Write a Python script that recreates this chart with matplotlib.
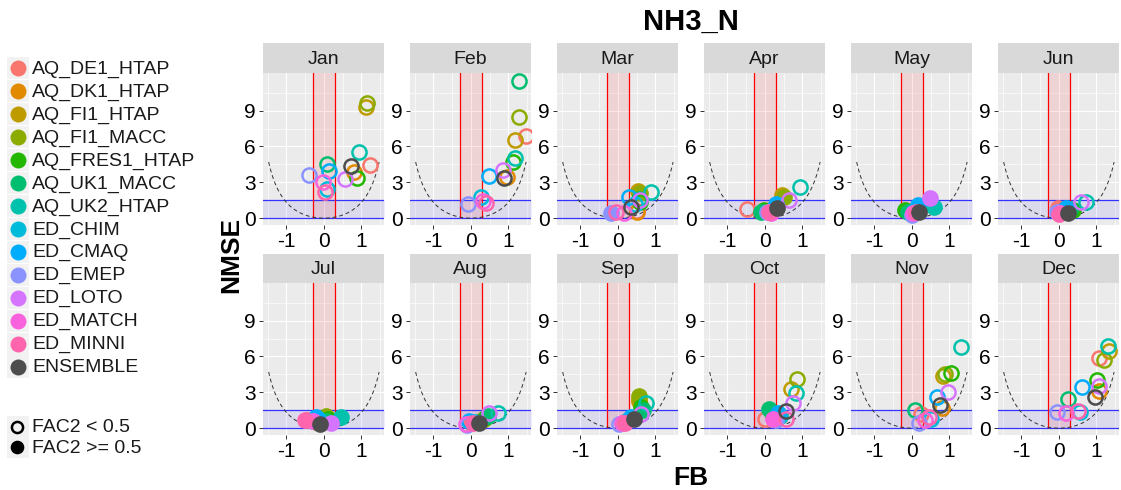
import numpy as np
import matplotlib
matplotlib.use("Agg")
import matplotlib.pyplot as plt
from matplotlib.patches import Rectangle

plt.rcParams['font.family'] = ['Liberation Sans', 'DejaVu Sans']

models = ["AQ_DE1_HTAP", "AQ_DK1_HTAP", "AQ_FI1_HTAP", "AQ_FI1_MACC", "AQ_FRES1_HTAP",
          "AQ_UK1_MACC", "AQ_UK2_HTAP", "ED_CHIM", "ED_CMAQ", "ED_EMEP", "ED_LOTO",
          "ED_MATCH", "ED_MINNI", "ENSEMBLE"]
colors = ["#F8766D", "#E18A00", "#BE9C00", "#8CAB00", "#24B700", "#00BE70", "#00C1AB",
          "#00BBDA", "#00ACFC", "#8B93FF", "#D575FE", "#F962DD", "#FF65AC", "#4D4D4D"]
months = ["Jan", "Feb", "Mar", "Apr", "May", "Jun", "Jul", "Aug", "Sep", "Oct", "Nov", "Dec"]

# FB, NMSE, FAC2>=0.5 flag (1 = filled) per month, in model order
jan_fb = [1.23, 0.81, 1.12, 1.15, 0.87, 0.08, 0.94, 0.08, 0.13, -0.40, 0.55, -0.03, 0.04, 0.71]
jan_nmse = [4.46, 3.85, 9.33, 9.6, 3.4, 4.54, 5.5, 2.45, 3.96, 3.62, 3.28, 3.0, 2.17, 4.37]
jan_fac2 = [0, 0, 0, 0, 0, 0, 0, 0, 0, 0, 0, 0, 0, 0]

feb_fb = [1.47, 0.95, 1.18, 1.29, 1.11, 1.29, 1.18, 0.27, 0.47, -0.08, 0.86, 0.33, 0.40, 0.89]
feb_nmse = [6.88, 3.48, 6.55, 8.5, 4.73, 11.48, 5.0, 1.8, 3.54, 1.2, 4.04, 1.45, 1.25, 3.34]
feb_fac2 = [0, 0, 0, 0, 0, 0, 0, 0, 0, 0, 0, 0, 0, 0]

mar_fb = [0.52, 0.51, 0.54, 0.58, 0.6, 0.55, 0.87, 0.45, 0.29, -0.19, 0.6, 0.16, -0.06, 0.36]
mar_nmse = [0.6, 0.55, 2.28, 2.1, 1.39, 1.6, 2.23, 1.2, 1.81, 0.47, 1.5, 0.42, 0.55, 0.97]
mar_fac2 = [0, 0, 1, 1, 0, 0, 0, 0, 0, 1, 0, 0, 0, 0]

apr_fb = [-0.47, 0.45, 0.46, 0.5, -0.03, -0.11, 0.94, 0.2, 0.3, 0.05, 0.64, 0.15, 0.1, 0.33]
apr_nmse = [0.75, 1.7, 1.95, 1.8, 0.7, 0.55, 2.64, 0.6, 1.2, 0.5, 1.53, 0.42, 0.5, 0.84]
apr_fac2 = [0, 1, 1, 1, 1, 1, 0, 1, 1, 1, 0, 1, 1, 1]

may_fb = [-0.06, 0.1, 0.15, 0.2, -0.19, -0.1, 0.6, 0.05, 0.15, 0.0, 0.49, 0.03, 0.1, 0.2]
may_nmse = [0.6, 0.8, 0.9, 1.0, 0.69, 0.55, 0.97, 0.6, 1.1, 0.3, 1.67, 0.42, 0.5, 0.55]
may_fac2 = [1, 1, 1, 1, 1, 1, 1, 1, 1, 1, 1, 1, 1, 1]

jun_fb = [-0.02, 0.1, 0.15, 0.2, 0.37, 0.3, 0.72, 0.15, 0.2, -0.05, 0.59, 0.02, 0.0, 0.24]
jun_nmse = [0.84, 0.5, 0.6, 0.65, 0.7, 0.8, 1.34, 0.7, 0.84, 0.5, 1.34, 0.42, 0.35, 0.42]
jun_fac2 = [1, 1, 1, 1, 1, 1, 0, 1, 1, 1, 0, 1, 1, 1]

jul_fb = [-0.45, -0.2, 0.0, 0.06, 0.1, 0.05, 0.46, -0.15, -0.2, -0.3, 0.2, -0.3, -0.51, -0.11]
jul_nmse = [0.69, 0.5, 0.7, 1.02, 0.8, 0.6, 0.97, 0.8, 0.9, 0.6, 0.47, 0.6, 0.69, 0.33]
jul_fac2 = [1, 1, 1, 1, 1, 1, 1, 1, 1, 1, 1, 1, 1, 1]

aug_fb = [0.0, 0.2, 0.3, 0.35, 0.4, 0.45, 0.71, 0.1, -0.05, -0.1, 0.49, -0.12, 0.05, 0.21]
aug_nmse = [0.4, 0.5, 0.7, 0.8, 0.9, 1.0, 1.3, 0.5, 0.6, 0.3, 1.3, 0.33, 0.45, 0.47]
aug_fac2 = [1, 1, 1, 1, 1, 1, 0, 1, 0, 0, 0, 0, 1, 1]

sep_fb = [0.15, 0.55, 0.55, 0.57, 0.62, 0.68, 0.75, 0.3, 0.35, 0.04, 0.62, 0.12, 0.2, 0.44]
sep_nmse = [0.5, 2.3, 2.4, 2.69, 1.8, 1.5, 2.13, 0.8, 0.9, 0.33, 1.16, 0.4, 0.45, 0.8]
sep_fac2 = [1, 1, 1, 1, 1, 1, 0, 1, 1, 0, 0, 0, 1, 1]

oct_fb = [-0.01, 0.4, 0.7, 0.86, 0.2, 0.11, 0.83, 0.4, 0.34, 0.3, 0.76, 0.21, 0.57, 0.57]
oct_nmse = [0.75, 1.0, 3.3, 4.13, 1.3, 1.58, 2.91, 1.0, 1.3, 0.7, 2.08, 0.75, 0.8, 1.44]
oct_fac2 = [0, 1, 0, 0, 1, 1, 0, 1, 1, 1, 0, 1, 0, 0]

nov_fb = [0.25, 0.8, 0.83, 0.87, 1.04, 0.07, 1.31, 0.51, 0.66, 0.19, 0.95, 0.34, 0.45, 0.75]
nov_nmse = [1.2, 1.7, 4.4, 4.56, 4.62, 1.52, 6.76, 0.75, 2.6, 0.47, 3.03, 0.69, 0.9, 1.91]
nov_fac2 = [0, 0, 0, 0, 0, 0, 0, 0, 0, 0, 0, 0, 0, 0]

dec_fb = [1.08, 1.07, 1.34, 1.21, 1.01, 0.24, 1.3, 0.55, 0.62, -0.05, 1.06, 0.2, 0.5, 0.97]
dec_nmse = [5.88, 3.1, 6.43, 5.74, 4.01, 2.41, 6.84, 1.36, 3.46, 1.38, 3.52, 1.3, 1.45, 2.6]
dec_fac2 = [0, 0, 0, 0, 0, 0, 0, 0, 0, 0, 0, 0, 0, 0]

fb_all = [jan_fb, feb_fb, mar_fb, apr_fb, may_fb, jun_fb, jul_fb, aug_fb, sep_fb, oct_fb, nov_fb, dec_fb]
nmse_all = [jan_nmse, feb_nmse, mar_nmse, apr_nmse, may_nmse, jun_nmse, jul_nmse, aug_nmse,
            sep_nmse, oct_nmse, nov_nmse, dec_nmse]
fac2_all = [jan_fac2, feb_fac2, mar_fac2, apr_fac2, may_fac2, jun_fac2, jul_fac2, aug_fac2,
            sep_fac2, oct_fac2, nov_fac2, dec_fac2]

W, H = 1121, 490
fig = plt.figure(figsize=(W / 100, H / 100), dpi=100)


def px_axes(x0, y0, x1, y1):
    return fig.add_axes([x0 / W, 1 - y1 / H, (x1 - x0) / W, (y1 - y0) / H])


XL = (-1.62, 1.60)
YL = (-0.57, 12.15)
curve_x = np.linspace(-1.47, 1.47, 200)
curve_y = 4 * curve_x ** 2 / (4 - curve_x ** 2)

rows = [(43, 73, 225), (254, 283, 435)]
for i, m in enumerate(months):
    r, c = divmod(i, 6)
    st, pt, pb = rows[r]
    x0 = 263 + 147 * c
    x1 = x0 + 121
    # strip
    sax = px_axes(x0, st, x1, pt)
    sax.set_facecolor('#D9D9D9')
    sax.set_xticks([]); sax.set_yticks([])
    for s in sax.spines.values():
        s.set_visible(False)
    sax.text(0.5, 0.45, m, ha='center', va='center', fontsize=14, color='#1A1A1A',
             transform=sax.transAxes)
    # panel
    ax = px_axes(x0, pt, x1, pb)
    ax.set_facecolor('#EBEBEB')
    ax.set_xlim(*XL); ax.set_ylim(*YL)
    ax.set_xticks([-1, 0, 1]); ax.set_xticklabels(['-1', '0', '1'])
    ax.set_yticks([0, 3, 6, 9])
    ax.set_xticks([-1.5, -0.5, 0.5, 1.5], minor=True)
    ax.set_yticks([1.5, 4.5, 7.5, 10.5], minor=True)
    ax.grid(True, which='major', color='white', lw=0.85)
    ax.grid(True, which='minor', color='white', lw=0.45)
    ax.set_axisbelow(True)
    ax.tick_params(which='major', length=3, width=0.7, color='#333333', labelsize=15,
                   labelcolor='black', pad=2)
    ax.tick_params(which='minor', length=0)
    for s in ax.spines.values():
        s.set_visible(False)
    # reference regions
    ax.fill_between([-1.7, 1.7], 0, 1.5, color='blue', alpha=0.07, lw=0, zorder=1)
    ax.fill_between([-0.3, 0.3], 0, 13, color='red', alpha=0.1, lw=0, zorder=1)
    ax.axhline(0, color='#3333FF', lw=0.9, zorder=2)
    ax.axhline(1.5, color='#3333FF', lw=0.9, zorder=2)
    ax.vlines([-0.3, 0.3], 0, 13, color='red', lw=0.9, zorder=2)
    ax.plot(curve_x, curve_y, color='#333333', lw=0.7, ls=(0, (4, 3)), zorder=2)
    # points
    for j in range(len(models)):
        filled = fac2_all[i][j] == 1
        ax.plot(fb_all[i][j], nmse_all[i][j], 'o', ms=10.2, mew=1.8,
                mec=colors[j], mfc=colors[j] if filled else 'none', zorder=3 + j * 0.01)

# overlay for titles and legend
ov = fig.add_axes([0, 0, 1, 1], facecolor='none')
ov.set_xlim(0, W); ov.set_ylim(H, 0); ov.axis('off')
ov.text(691, 22, 'NH3_N', ha='center', va='center', fontsize=21, fontweight='bold')
ov.text(691, 478, 'FB', ha='center', va='center', fontsize=19, fontweight='bold')
ov.text(231, 255, 'NMSE', ha='center', va='center', fontsize=19, fontweight='bold', rotation=90)

for k, (name, col) in enumerate(zip(models, colors)):
    y = 68.3 + 22.95 * k
    ov.add_patch(Rectangle((7, y - 11.2), 22, 22.4, facecolor='#F2F2F2', edgecolor='none'))
    ov.plot(18, y, 'o', ms=11.5, mfc=col, mec=col, mew=0)
    ov.text(32, y + 1, name, ha='left', va='center', fontsize=14, color='#1A1A1A')

for k, (lab, filled) in enumerate([("FAC2 < 0.5", False), ("FAC2 >= 0.5", True)]):
    y = 426.7 + 20.6 * k
    ov.add_patch(Rectangle((7, y - 10.3), 22, 20.6, facecolor='#F2F2F2', edgecolor='none'))
    ov.plot(17, y, 'o', ms=8, mew=1.8, mec='black', mfc='black' if filled else 'none')
    ov.text(32, y + 1, lab, ha='left', va='center', fontsize=14, color='#1A1A1A')

fig.savefig('out.png', dpi=100)
